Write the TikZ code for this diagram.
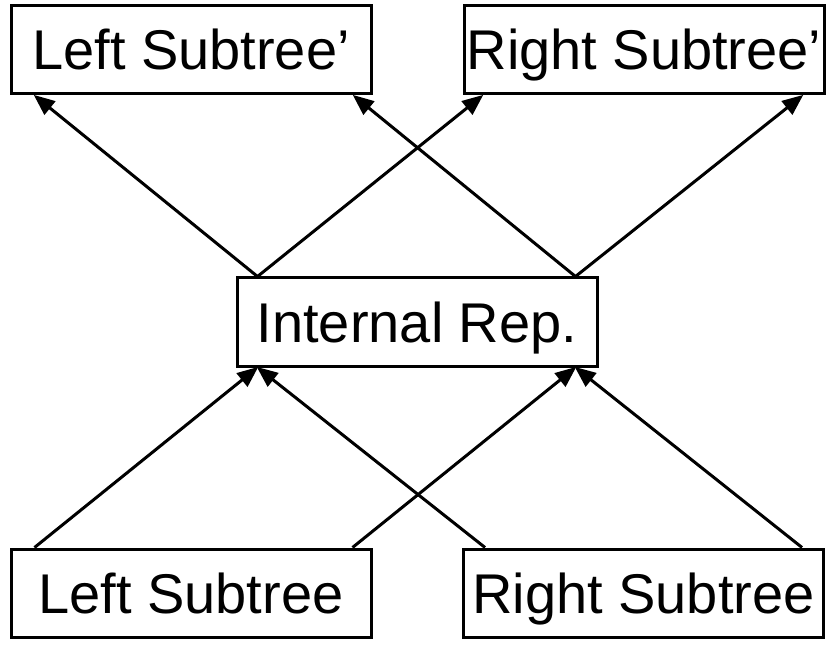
\documentclass[tikz,border=0pt]{standalone}
\usepackage{fontspec}
\setmainfont{Liberation Sans}
\usetikzlibrary{arrows.meta}
\begin{document}
\begin{tikzpicture}[x=1pt,y=1pt,
  box/.style={draw,line width=3pt,minimum width=360pt,minimum height=88pt,inner sep=0pt,
    font=\fontsize{56}{60}\selectfont,text height=40pt,text depth=0pt},
  arr/.style={line width=3pt,shorten >=-1pt,-{Triangle[length=21pt,width=17pt]}}]
\useasboundingbox (0,0) rectangle (830,649);
\node[box] (lsp) at (191,599) {Left Subtree’};
\node[box] (rsp) at (644,599) {Right Subtree’};
\node[box] (ir) at (417,327) {Internal Rep.};
\node[box] (ls) at (191,56) {Left Subtree};
\node[box] (rs) at (643.5,56) {Right Subtree};
% bottom to internal
\draw[arr] ([xshift=25pt]ls.north west) -- ([xshift=22pt]ir.south west);
\draw[arr] ([xshift=-20pt]ls.north east) -- ([xshift=-23pt]ir.south east);
\draw[arr] ([xshift=23pt]rs.north west) -- ([xshift=22pt]ir.south west);
\draw[arr] ([xshift=-23pt]rs.north east) -- ([xshift=-23pt]ir.south east);
% internal to top
\draw[arr] ([xshift=22pt]ir.north west) -- ([xshift=25pt]lsp.south west);
\draw[arr] ([xshift=22pt]ir.north west) -- ([xshift=20pt]rsp.south west);
\draw[arr] ([xshift=-23pt]ir.north east) -- ([xshift=-19pt]lsp.south east);
\draw[arr] ([xshift=-23pt]ir.north east) -- ([xshift=-23pt]rsp.south east);
\end{tikzpicture}
\end{document}
